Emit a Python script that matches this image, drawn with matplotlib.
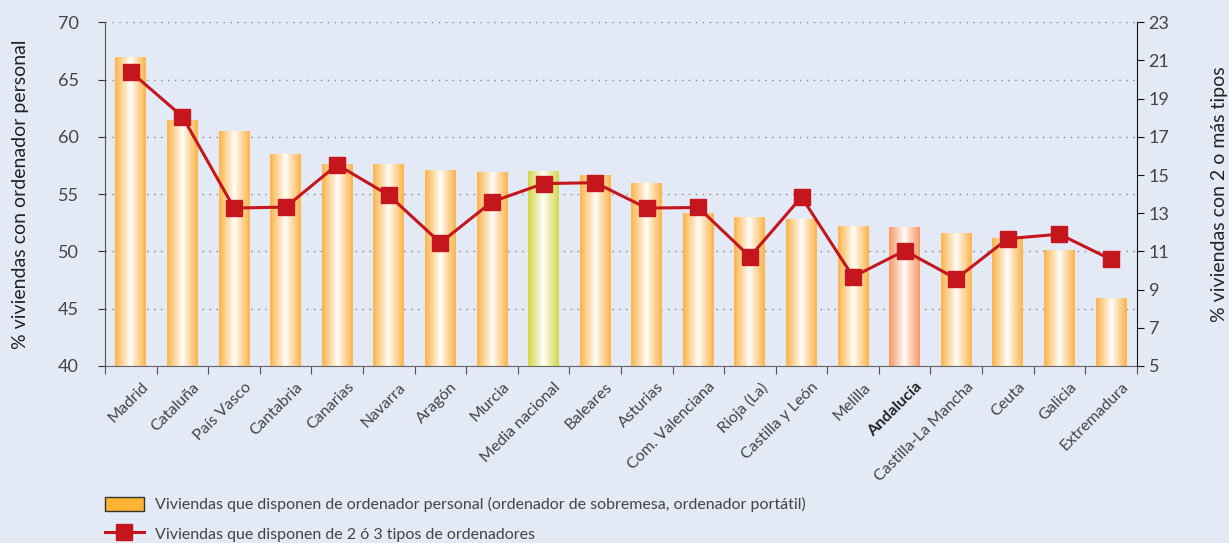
import numpy as np
import matplotlib
matplotlib.use("Agg")
import matplotlib.pyplot as plt
from matplotlib.patches import Patch
from matplotlib.lines import Line2D
from matplotlib.colors import to_rgb
from matplotlib.transforms import ScaledTranslation

# data
regiones = ["Madrid", "Cataluña", "País Vasco", "Cantabria", "Canarias", "Navarra",
            "Aragón", "Murcia", "Media nacional", "Baleares", "Asturias",
            "Com. Valenciana", "Rioja (La)", "Castilla y León", "Melilla", "Andalucía",
            "Castilla-La Mancha", "Ceuta", "Galicia", "Extremadura"]
pct_ordenador = [66.9, 61.4, 60.5, 58.5, 57.6, 57.6, 57.1, 56.9, 57.0, 56.6, 55.9,
                 53.3, 53.0, 52.8, 52.2, 52.1, 51.6, 51.1, 50.1, 45.9]
pct_2o3_tipos = [20.4, 18.06, 13.27, 13.32, 15.54, 13.94, 11.45, 13.6, 14.55, 14.6, 13.27,
                 13.3, 10.72, 13.85, 9.67, 11.04, 9.57, 11.67, 11.9, 10.58]

plt.rcParams["font.family"] = ["Lato", "DejaVu Sans"]
bg = "#e3e9f5"
txt = "#444444"

fig = plt.figure(figsize=(12.29, 5.43), dpi=100, facecolor=bg)
ax = fig.add_axes([0.0855, 0.326, 0.8395, 0.633])
ax.set_facecolor(bg)
x = np.arange(len(regiones))

bars = ax.bar(x, [v - 40 for v in pct_ordenador], bottom=40, width=0.6,
              color="none", edgecolor="none", zorder=2)

# cylinder-like gradient inside each bar
def gradiente(color):
    t = np.abs(np.linspace(-1, 1, 64)) ** 0.9
    c = np.array(to_rgb(color))
    w = np.array([1.0, 1.0, 1.0])
    return (w[None, :] * (1 - t[:, None]) + c[None, :] * t[:, None])[None, :, :]

for b, nombre in zip(bars, regiones):
    col = "#fbb54a"
    if nombre == "Media nacional":
        col = "#d2d84a"
    elif nombre == "Andalucía":
        col = "#f59a68"
    ax.imshow(gradiente(col), extent=(b.get_x(), b.get_x() + b.get_width(),
                                     b.get_y(), b.get_y() + b.get_height()),
              aspect="auto", zorder=2, interpolation="bilinear")

ax.set_xlim(-0.5, len(regiones) - 0.5)
ax.set_ylim(40, 70)
ax.set_yticks(range(40, 71, 5))
ax.yaxis.grid(True, linestyle=(0, (1, 4)), color="#888888", linewidth=1, zorder=1)
ax.set_axisbelow(True)

# category labels drawn as text so they can sit slightly right of the bar centre
ax.set_xticks(np.arange(-0.5, len(regiones), 1))
ax.set_xticklabels([])
ax.tick_params(axis="x", length=6, color="#555555", direction="out")
desplaza = ScaledTranslation(10 / 100, -14 / 100, fig.dpi_scale_trans)
for i, nombre in enumerate(regiones):
    bold = nombre == "Andalucía"
    ax.text(i, 0, nombre, transform=ax.get_xaxis_transform() + desplaza,
            rotation=45, ha="right", va="top", rotation_mode="anchor",
            fontsize=11.5, color="#222222" if bold else txt,
            fontweight="bold" if bold else "normal")

ax.tick_params(axis="y", labelsize=13, labelcolor=txt, length=5, color="#333333", pad=14)
for s in ["top", "right"]:
    ax.spines[s].set_visible(False)
ax.spines["left"].set_color("#555555")
ax.spines["bottom"].set_color("#666666")
ax.set_ylabel("% viviendas con ordenador personal", fontsize=14, color="#222222",
              labelpad=21)

ax2 = ax.twinx()
ax2.plot(x, pct_2o3_tipos, color="#c4161c", linewidth=2.2, marker="s",
         markersize=12, zorder=5)
ax2.set_ylim(5, 23)
ax2.set_yticks(range(5, 24, 2))
ax2.tick_params(axis="y", labelsize=13, labelcolor=txt, length=5, color="#111111")
for s in ["top", "left", "bottom"]:
    ax2.spines[s].set_visible(False)
ax2.spines["right"].set_color("#111111")
ax2.set_ylabel("% viviendas con 2 o más tipos", fontsize=14, color="#222222",
               labelpad=30)

handles = [Patch(facecolor="#fbb532", edgecolor="#333333", linewidth=1),
           Line2D([0], [0], color="#c4161c", linewidth=2.2, marker="s", markersize=12)]
labels = ["Viviendas que disponen de ordenador personal (ordenador de sobremesa, ordenador portátil)",
          "Viviendas que disponen de 2 ó 3 tipos de ordenadores"]
fig.legend(handles, labels, loc="lower left", bbox_to_anchor=(0.074, -0.024),
           frameon=False, fontsize=11.5, labelcolor=txt, handlelength=2.4,
           handletextpad=0.7, labelspacing=0.85, handleheight=1.0)

fig.savefig("out.png", dpi=100, facecolor=bg)
